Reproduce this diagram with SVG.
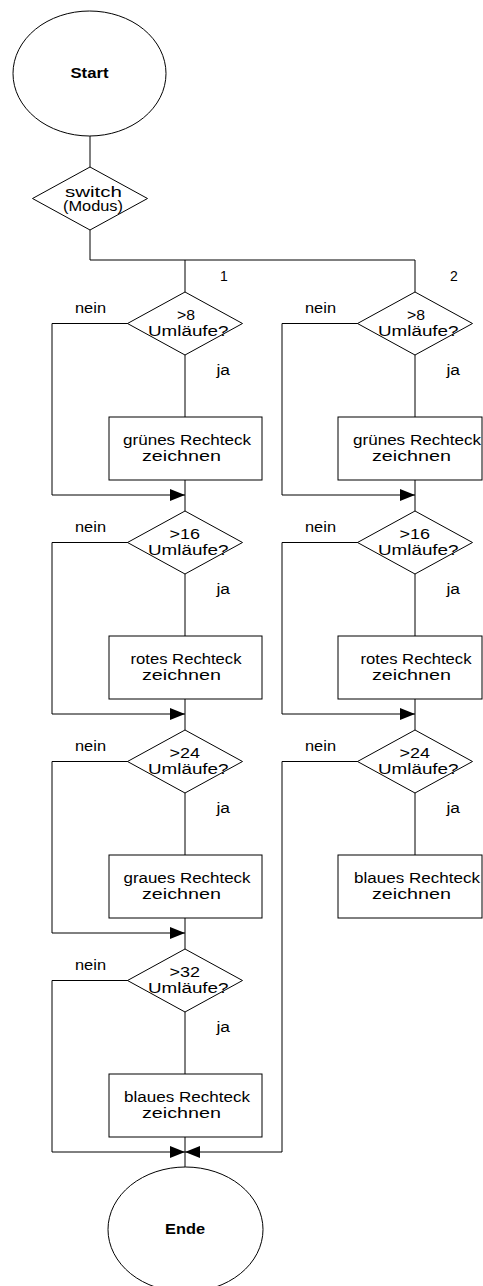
<svg xmlns="http://www.w3.org/2000/svg" width="483" height="1286" viewBox="0 0 483 1286">
<style>
.s{fill:#fff;stroke:#000;stroke-width:1}
.c{fill:none;stroke:#000;stroke-width:1}
text{font-family:"Liberation Sans",Arial,sans-serif;font-size:14px;fill:#000}
.b{font-weight:bold}
</style>
<defs>
<marker id="ah" markerUnits="userSpaceOnUse" markerWidth="15" markerHeight="12" refX="15" refY="6" orient="auto">
<path d="M0,0 L15,6 L0,12 z" fill="#000"/>
</marker>
</defs>
<rect width="483" height="1286" fill="#fff"/>
<g id="connectors">
<path class="c" d="M90,136 V167"/>
<path class="c" d="M90,230 V260 H415"/>
<path class="c" d="M185,260 V292"/>
<path class="c" d="M415,260 V292"/>
<!-- left column -->
<path class="c" d="M185,355 V417"/>
<path class="c" d="M185,480 V511"/>
<path class="c" d="M128,323.5 H52 V495 H185" marker-end="url(#ah)"/>
<path class="c" d="M185,574 V636"/>
<path class="c" d="M185,699 V730"/>
<path class="c" d="M128,542.5 H52 V714 H185" marker-end="url(#ah)"/>
<path class="c" d="M185,793 V855"/>
<path class="c" d="M185,918 V949"/>
<path class="c" d="M128,761.5 H52 V933 H185" marker-end="url(#ah)"/>
<path class="c" d="M185,1012 V1074"/>
<path class="c" d="M185,1137 V1167"/>
<path class="c" d="M128,980.5 H52 V1152 H185" marker-end="url(#ah)"/>
<!-- right column -->
<path class="c" d="M415,355 V417"/>
<path class="c" d="M415,480 V511"/>
<path class="c" d="M358,323.5 H282 V495 H415" marker-end="url(#ah)"/>
<path class="c" d="M415,574 V636"/>
<path class="c" d="M415,699 V730"/>
<path class="c" d="M358,542.5 H282 V714 H415" marker-end="url(#ah)"/>
<path class="c" d="M415,793 V855"/>
<path class="c" d="M358,761.5 H282 V1152 H185" marker-end="url(#ah)"/>
</g>
<g id="labels">
<text x="220" y="281">1</text>
<text x="450" y="281">2</text>
<text x="75" y="313" textLength="31" lengthAdjust="spacingAndGlyphs">nein</text>
<text x="216.5" y="375" textLength="13.5" lengthAdjust="spacingAndGlyphs">ja</text>
<text x="75" y="532" textLength="31" lengthAdjust="spacingAndGlyphs">nein</text>
<text x="216.5" y="594" textLength="13.5" lengthAdjust="spacingAndGlyphs">ja</text>
<text x="75" y="751" textLength="31" lengthAdjust="spacingAndGlyphs">nein</text>
<text x="216.5" y="813" textLength="13.5" lengthAdjust="spacingAndGlyphs">ja</text>
<text x="75" y="970" textLength="31" lengthAdjust="spacingAndGlyphs">nein</text>
<text x="216.5" y="1032" textLength="13.5" lengthAdjust="spacingAndGlyphs">ja</text>
<text x="305" y="313" textLength="31" lengthAdjust="spacingAndGlyphs">nein</text>
<text x="446.5" y="375" textLength="13.5" lengthAdjust="spacingAndGlyphs">ja</text>
<text x="305" y="532" textLength="31" lengthAdjust="spacingAndGlyphs">nein</text>
<text x="446.5" y="594" textLength="13.5" lengthAdjust="spacingAndGlyphs">ja</text>
<text x="305" y="751" textLength="31" lengthAdjust="spacingAndGlyphs">nein</text>
<text x="446.5" y="813" textLength="13.5" lengthAdjust="spacingAndGlyphs">ja</text>
</g>
<g id="start">
<ellipse class="s" cx="89.5" cy="73.5" rx="76.5" ry="62.5"/>
<text class="b" x="70.5" y="78" textLength="38" lengthAdjust="spacingAndGlyphs">Start</text>
</g>
<g id="switch">
<polygon class="s" points="90,167 147.5,198.5 90,230 32.5,198.5"/>
<text x="65" y="197" textLength="57" lengthAdjust="spacingAndGlyphs">switch</text>
<text x="63" y="211" textLength="60" lengthAdjust="spacingAndGlyphs">(Modus)</text>
</g>
<g id="d1L">
<polygon class="s" points="185,292 242.5,323.5 185,355 127.5,323.5"/>
<text x="177" y="319.5" textLength="18" lengthAdjust="spacingAndGlyphs">&gt;8</text>
<text x="148" y="335.5" textLength="80.5" lengthAdjust="spacingAndGlyphs">Umläufe?</text>
</g>
<g id="r1L">
<rect class="s" x="109" y="417" width="153" height="63"/>
<text x="123" y="445" textLength="128" lengthAdjust="spacingAndGlyphs">grünes Rechteck</text>
<text x="142" y="461" textLength="79" lengthAdjust="spacingAndGlyphs">zeichnen</text>
</g>
<g id="d2L">
<polygon class="s" points="185,511 242.5,542.5 185,574 127.5,542.5"/>
<text x="169.5" y="538.5" textLength="30.5" lengthAdjust="spacingAndGlyphs">&gt;16</text>
<text x="148" y="554.5" textLength="80.5" lengthAdjust="spacingAndGlyphs">Umläufe?</text>
</g>
<g id="r2L">
<rect class="s" x="109" y="636" width="153" height="63"/>
<text x="130.5" y="664" textLength="111" lengthAdjust="spacingAndGlyphs">rotes Rechteck</text>
<text x="142" y="680" textLength="79" lengthAdjust="spacingAndGlyphs">zeichnen</text>
</g>
<g id="d3L">
<polygon class="s" points="185,730 242.5,761.5 185,793 127.5,761.5"/>
<text x="169.5" y="757.5" textLength="30.5" lengthAdjust="spacingAndGlyphs">&gt;24</text>
<text x="148" y="773.5" textLength="80.5" lengthAdjust="spacingAndGlyphs">Umläufe?</text>
</g>
<g id="r3L">
<rect class="s" x="109" y="855" width="153" height="63"/>
<text x="123.5" y="883" textLength="127" lengthAdjust="spacingAndGlyphs">graues Rechteck</text>
<text x="142" y="899" textLength="79" lengthAdjust="spacingAndGlyphs">zeichnen</text>
</g>
<g id="d4L">
<polygon class="s" points="185,949 242.5,980.5 185,1012 127.5,980.5"/>
<text x="169.5" y="976.5" textLength="30.5" lengthAdjust="spacingAndGlyphs">&gt;32</text>
<text x="148" y="992.5" textLength="80.5" lengthAdjust="spacingAndGlyphs">Umläufe?</text>
</g>
<g id="r4L">
<rect class="s" x="109" y="1074" width="153" height="63"/>
<text x="124" y="1102" textLength="126" lengthAdjust="spacingAndGlyphs">blaues Rechteck</text>
<text x="142" y="1118" textLength="79" lengthAdjust="spacingAndGlyphs">zeichnen</text>
</g>
<g id="d1R">
<polygon class="s" points="415,292 472.5,323.5 415,355 357.5,323.5"/>
<text x="407" y="319.5" textLength="18" lengthAdjust="spacingAndGlyphs">&gt;8</text>
<text x="378" y="335.5" textLength="80.5" lengthAdjust="spacingAndGlyphs">Umläufe?</text>
</g>
<g id="r1R">
<rect class="s" x="338" y="417" width="144" height="63"/>
<text x="353" y="445" textLength="128" lengthAdjust="spacingAndGlyphs">grünes Rechteck</text>
<text x="372" y="461" textLength="79" lengthAdjust="spacingAndGlyphs">zeichnen</text>
</g>
<g id="d2R">
<polygon class="s" points="415,511 472.5,542.5 415,574 357.5,542.5"/>
<text x="399.5" y="538.5" textLength="30.5" lengthAdjust="spacingAndGlyphs">&gt;16</text>
<text x="378" y="554.5" textLength="80.5" lengthAdjust="spacingAndGlyphs">Umläufe?</text>
</g>
<g id="r2R">
<rect class="s" x="338" y="636" width="144" height="63"/>
<text x="360.5" y="664" textLength="111" lengthAdjust="spacingAndGlyphs">rotes Rechteck</text>
<text x="372" y="680" textLength="79" lengthAdjust="spacingAndGlyphs">zeichnen</text>
</g>
<g id="d3R">
<polygon class="s" points="415,730 472.5,761.5 415,793 357.5,761.5"/>
<text x="399.5" y="757.5" textLength="30.5" lengthAdjust="spacingAndGlyphs">&gt;24</text>
<text x="378" y="773.5" textLength="80.5" lengthAdjust="spacingAndGlyphs">Umläufe?</text>
</g>
<g id="r3R">
<rect class="s" x="338" y="855" width="144" height="63"/>
<text x="354" y="883" textLength="126" lengthAdjust="spacingAndGlyphs">blaues Rechteck</text>
<text x="372" y="899" textLength="79" lengthAdjust="spacingAndGlyphs">zeichnen</text>
</g>
<g id="ende">
<ellipse class="s" cx="185.5" cy="1229.5" rx="77.5" ry="62.5"/>
<text class="b" x="165" y="1233.5" textLength="40" lengthAdjust="spacingAndGlyphs">Ende</text>
</g>
</svg>
